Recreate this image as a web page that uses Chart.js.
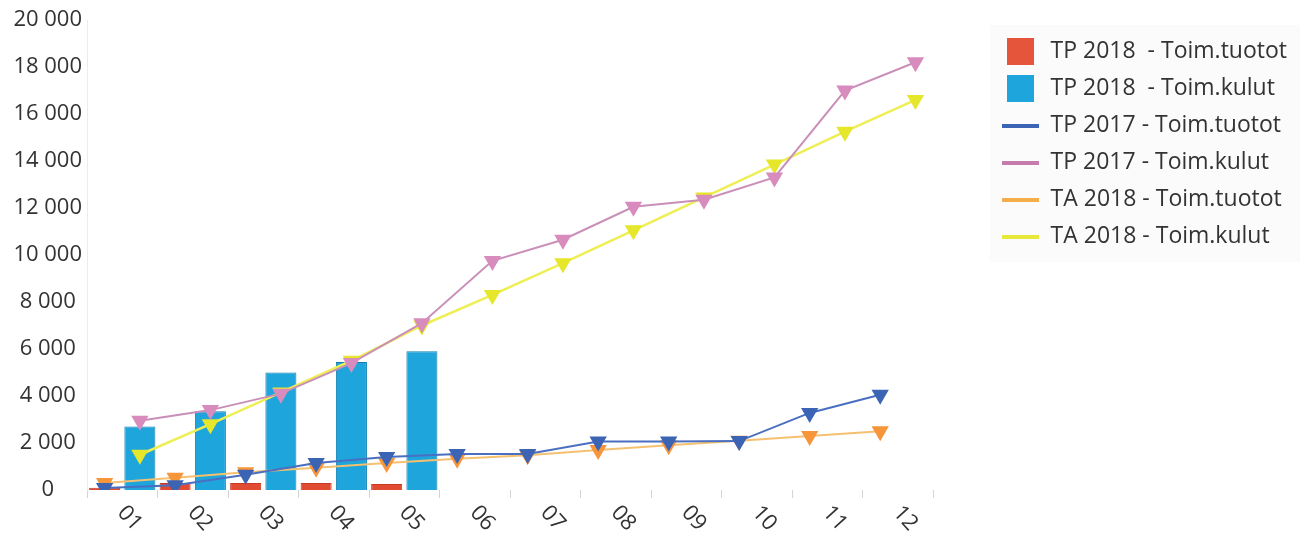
<!DOCTYPE html>
<html>
<head>
<meta charset="utf-8">
<title>Toimintatuotot ja -kulut</title>
<script src="https://cdn.jsdelivr.net/npm/chart.js@4.4.1/dist/chart.umd.min.js"></script>
<style>
  html, body { margin: 0; padding: 0; background: #fff; }
  .chart-box { width: 1300px; height: 535px; position: relative; }
</style>
</head>
<body>
<div class="chart-box"><canvas id="kuukausiChart"></canvas></div>
<script>
  var kuukaudet = ['01', '02', '03', '04', '05', '06', '07', '08', '09', '10', '11', '12'];

  var tp2018Tuotot = [100, 300, 300, 300, 260];
  var tp2018Kulut = [2700, 3350, 5000, 5450, 5900];
  var tp2017Tuotot = [80, 200, 650, 1150, 1400, 1530, 1530, 2060, 2060, 2080, 3280, 4050];
  var tp2017Kulut = [2950, 3400, 4100, 5400, 7100, 9750, 10650, 12050, 12350, 13300, 17000, 18200];
  var ta2018Tuotot = [300, 520, 760, 950, 1150, 1330, 1480, 1700, 1900, 2100, 2300, 2500];
  var ta2018Kulut = [1500, 2800, 4150, 5500, 7000, 8300, 9650, 11050, 12450, 13850, 15250, 16600];

  var yMax = 20000;
  var yAskel = 2000;

  // puolikkaat: jokainen kuukausi jaettu kahteen paikkaan (tuotot vasen, kulut oikea)
  var puolikkaat = [];
  kuukaudet.forEach(function (k) { puolikkaat.push(k + 'a', k + 'b'); });

  function pisteet(arvot, puoli) {
    return arvot.map(function (v, i) { return { x: kuukaudet[i] + puoli, y: v }; });
  }

  function tuhannet(v) {
    return String(v).replace(/\B(?=(\d{3})+(?!\d))/g, ' ');
  }

  function merkki(leveys, korkeus, vari) {
    var c = document.createElement('canvas');
    c.width = leveys;
    c.height = korkeus;
    var g = c.getContext('2d');
    g.fillStyle = vari;
    g.fillRect(0, 0, leveys, korkeus);
    return c;
  }

  var legendMerkit = [
    merkki(27, 27, '#e5553b'),
    merkki(27, 27, '#1ea5dc'),
    merkki(37, 4, '#3b64b5'),
    merkki(37, 4, '#c77aae'),
    merkki(37, 4, '#f7ad4a'),
    merkki(37, 4, '#e8e83a')
  ];

  function pylvas(label, data, vari, reuna) {
    return {
      type: 'bar',
      label: label,
      data: data,
      xAxisID: 'xs',
      order: 2,
      grouped: false,
      backgroundColor: vari,
      borderColor: reuna,
      borderWidth: 1,
      categoryPercentage: 1,
      barPercentage: 0.88
    };
  }

  function viiva(label, data, viivaVari, merkkiVari, leveys) {
    return {
      type: 'line',
      label: label,
      data: data,
      xAxisID: 'xs',
      order: 1,
      borderColor: viivaVari,
      borderWidth: leveys,
      backgroundColor: merkkiVari,
      pointStyle: 'triangle',
      rotation: 180,
      pointRadius: 10,
      pointBorderWidth: 0,
      pointBackgroundColor: merkkiVari,
      tension: 0,
      fill: false
    };
  }

  // kuukausien nimiöt kierrettynä alaspäin
  var kuukausiNimiot = {
    id: 'kuukausiNimiot',
    afterDraw: function (chart) {
      var ctx = chart.ctx, x = chart.scales.x, ala = chart.chartArea;
      ctx.save();
      ctx.font = '22px "Open Sans"';
      ctx.fillStyle = '#333';
      ctx.textAlign = 'left';
      ctx.textBaseline = 'middle';
      kuukaudet.forEach(function (k, i) {
        ctx.save();
        ctx.translate(x.getPixelForTick(i) - 1, ala.bottom + 19);
        ctx.rotate(48 * Math.PI / 180);
        ctx.fillText(k, 0, 0);
        ctx.restore();
      });
      ctx.restore();
    }
  };

  // selitteen vaalea tausta
  var selitePohja = {
    id: 'selitePohja',
    beforeDraw: function (chart) {
      var l = chart.legend;
      if (!l || !l.legendHitBoxes.length) return;
      var viimeinen = l.legendHitBoxes[l.legendHitBoxes.length - 1];
      var ctx = chart.ctx;
      ctx.save();
      ctx.fillStyle = '#fbfbfb';
      ctx.fillRect(l.left + 2, 25, chart.width - l.left - 2, viimeinen.top + viimeinen.height + 14 - 25);
      ctx.restore();
    }
  };

  Chart.defaults.font.family = '"Open Sans", "Noto Sans", sans-serif';
  Chart.defaults.color = '#333';

  new Chart(document.getElementById('kuukausiChart').getContext('2d'), {
    type: 'bar',
    data: {
      labels: kuukaudet,
      datasets: [
        pylvas('TP 2018  - Toim.tuotot', pisteet(tp2018Tuotot, 'a'), '#e14b32', '#c63a24'),
        pylvas('TP 2018  - Toim.kulut', pisteet(tp2018Kulut, 'b'), '#1ea5dc', '#137eb1'),
        viiva('TP 2017 - Toim.tuotot', pisteet(tp2017Tuotot, 'a'), '#4a6fc0', '#3b64b5', 2),
        viiva('TP 2017 - Toim.kulut', pisteet(tp2017Kulut, 'b'), '#c98fb8', '#d88bbd', 2),
        viiva('TA 2018 - Toim.tuotot', pisteet(ta2018Tuotot, 'a'), '#f5c070', '#f7953b', 2),
        viiva('TA 2018 - Toim.kulut', pisteet(ta2018Kulut, 'b'), '#eeee55', '#e6e62a', 2.5)
      ]
    },
    options: {
      responsive: true,
      maintainAspectRatio: false,
      animation: false,
      layout: { padding: { top: 20, right: 3, bottom: 0, left: 0 } },
      scales: {
        x: {
          type: 'category',
          offset: true,
          grid: { display: true, drawOnChartArea: false, offset: true, tickLength: 8, color: '#d4d4d4' },
          border: { display: false },
          ticks: { display: false },
          afterFit: function (s) { s.height = 45; }
        },
        xs: {
          type: 'category',
          labels: puolikkaat,
          offset: true,
          display: false
        },
        y: {
          min: 0,
          max: yMax,
          grid: { display: false, drawTicks: false, tickLength: 0 },
          border: { display: true, color: '#ececec' },
          ticks: {
            stepSize: yAskel,
            padding: 5,
            crossAlign: 'center',
            font: { size: 22 },
            color: '#333',
            callback: function (v) { return tuhannet(v); }
          },
          afterFit: function (s) { s.width = 87; }
        },
        yRako: {
          type: 'linear',
          position: 'right',
          display: true,
          grid: { display: false },
          border: { display: false },
          ticks: { display: false },
          afterFit: function (s) { s.width = 55; }
        }
      },
      plugins: {
        tooltip: { enabled: false },
        legend: {
          position: 'right',
          align: 'start',
          maxWidth: 340,
          title: { display: true, text: '', font: { size: 6, lineHeight: 1 }, padding: 0 },
          labels: {
            usePointStyle: true,
            pointStyleWidth: 37,
            padding: 14,
            color: '#222',
            font: { size: 23, lineHeight: 1 },
            generateLabels: function (chart) {
              return chart.data.datasets.map(function (ds, i) {
                return {
                  text: ds.label,
                  pointStyle: legendMerkit[i],
                  fillStyle: 'transparent',
                  strokeStyle: 'transparent',
                  lineWidth: 0,
                  hidden: !chart.isDatasetVisible(i),
                  datasetIndex: i
                };
              });
            }
          }
        }
      }
    },
    plugins: [selitePohja, kuukausiNimiot]
  });
</script>
</body>
</html>
